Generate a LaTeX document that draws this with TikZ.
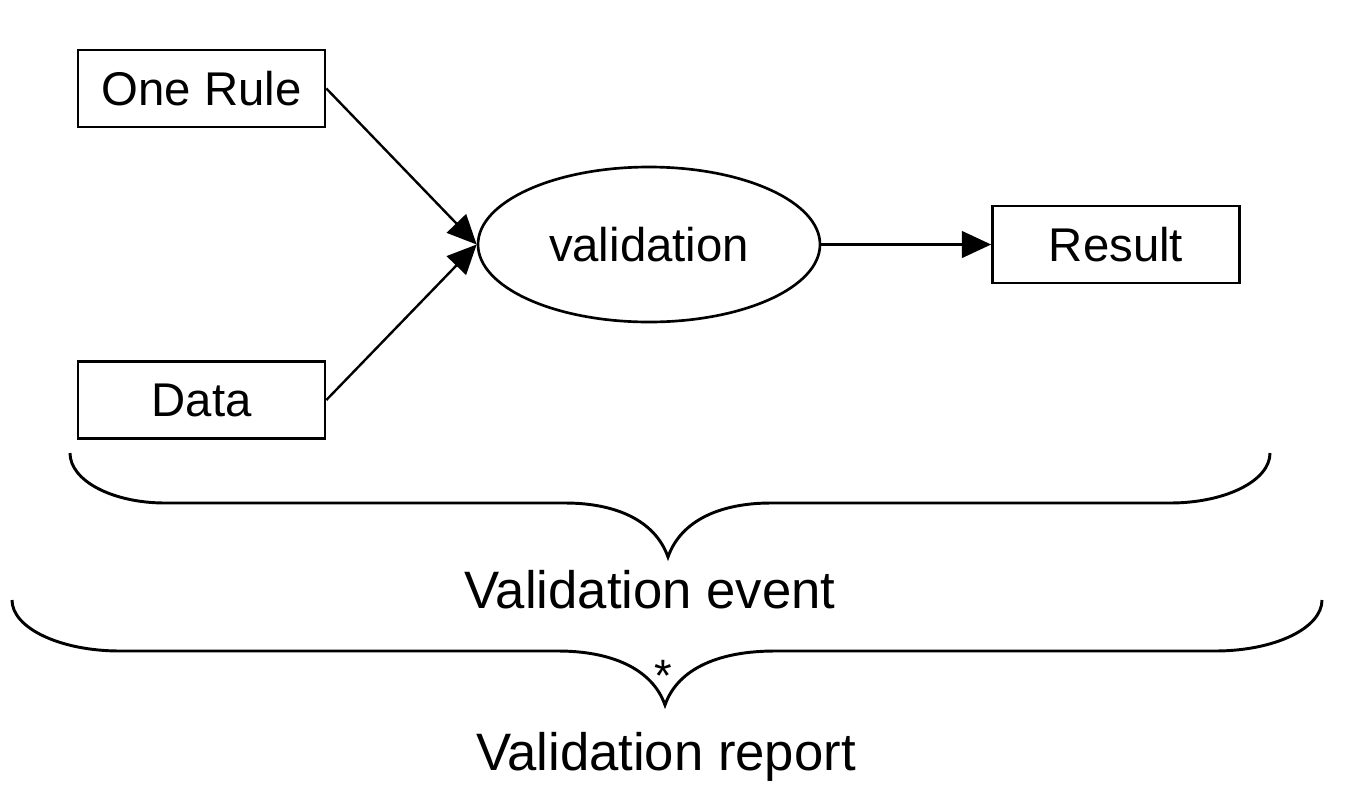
\documentclass[tikz,border=0pt]{standalone}
\usepackage{fontspec}
\setmainfont{Liberation Sans}
\usetikzlibrary{arrows.meta,shapes.geometric}
\begin{document}
\begin{tikzpicture}[x=0.75pt,y=-0.75pt,
  box/.style={draw,line width=2pt,minimum width=247*0.75pt,minimum height=77*0.75pt,inner sep=0pt,font=\fontsize{35.5pt}{40pt}\selectfont},
  proc/.style={draw,ellipse,line width=2pt,minimum width=342*0.75pt,minimum height=155*0.75pt,inner sep=0pt,font=\fontsize{35.5pt}{40pt}\selectfont},
  conn/.style={line width=1.8pt,-{Triangle[length=22pt,width=20pt]}},
  brace/.style={line width=2.2pt},
  lbl/.style={font=\fontsize{39.5pt}{44pt}\selectfont,inner sep=0pt}]
\useasboundingbox (0,0) rectangle (1349,800);
\node[box] (rule) at (201.5,88.5) {One Rule};
\node[box] (data) at (201.5,400) {Data};
\node[proc] (val) at (649,244.5) {validation};
\node[box] (res) at (1116,244.5) {Result};
\draw[conn] (rule.east) -- (val.west);
\draw[conn] (data.east) -- (val.west);
\draw[conn] (val.east) -- (res.west);
% brace 1
\coordinate (b1l) at (70,453);
\coordinate (b1t) at (668,557);
\coordinate (b1r) at (1270,453);
\draw[brace] (b1l) .. controls (70,481) and (113,503) .. (165,503) -- (565,503)
  .. controls (615,503) and (655,520) .. (b1t)
  .. controls (681,520) and (721,503) .. (771,503) -- (1170,503)
  .. controls (1225,503) and (1270,481) .. (b1r);
\node[lbl] (ev) at (650,590) {Validation event};
% brace 2
\coordinate (b2l) at (12,600);
\coordinate (b2t) at (665,705);
\coordinate (b2r) at (1322,600);
\draw[brace] (b2l) .. controls (12,628) and (60,651) .. (120,651) -- (558,651)
  .. controls (610,651) and (652,668) .. (b2t)
  .. controls (678,668) and (720,651) .. (775,651) -- (1215,651)
  .. controls (1275,651) and (1322,628) .. (b2r);
\node[font=\fontsize{34pt}{36pt}\selectfont,inner sep=0pt] (star) at (663,676) {*};
\node[lbl] (rep) at (666,757) {Validation report};
\end{tikzpicture}
\end{document}
